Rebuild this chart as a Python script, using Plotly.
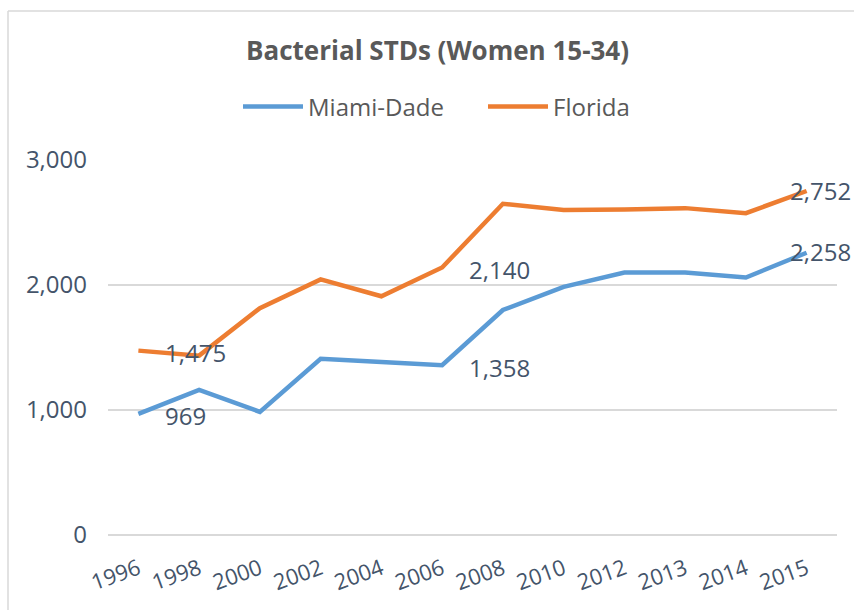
import plotly.graph_objects as go

# Bacterial STD cases among women aged 15-34
years = ["1996", "1998", "2000", "2002", "2004", "2006", "2008",
         "2010", "2012", "2013", "2014", "2015"]
miami_dade = [969, 1160, 985, 1410, 1385, 1358, 1800, 1985, 2100, 2100, 2060, 2258]
florida = [1475, 1435, 1815, 2045, 1910, 2140, 2650, 2600, 2605, 2615, 2575, 2752]

# Points that carry a value label (index into years)
labeled = [0, 5, 11]

BLUE = "#5B9BD5"
ORANGE = "#ED7D31"
TEXT = "#44546A"
FONT = "'Open Sans', sans-serif"

fig = go.Figure()
fig.add_trace(go.Scatter(x=years, y=miami_dade, name="Miami-Dade", mode="lines",
                         line=dict(color=BLUE, width=4.5)))
fig.add_trace(go.Scatter(x=years, y=florida, name="Florida", mode="lines",
                         line=dict(color=ORANGE, width=4.5)))

# Value labels placed to the right of their points (x given as category index)
for series in (miami_dade, florida):
    for i in labeled:
        last = i == len(years) - 1
        fig.add_annotation(x=i, y=series[i], text=f"{series[i]:,}",
                           showarrow=False, xanchor="left", yanchor="middle",
                           xshift=-19 if last else 25, yshift=1 if last else -2,
                           font=dict(family=FONT, size=24, color=TEXT))

# Title centred over the chart
fig.add_annotation(xref="paper", yref="paper", x=(437 - 108) / 729, y=(535 - 50) / 375,
                   text="<b>Bacterial STDs (Women 15-34)</b>", showarrow=False,
                   xanchor="center", yanchor="middle",
                   font=dict(family=FONT, size=26, color="#595959"))

# Chart frame (left and top edges visible)
fig.add_shape(type="line", xref="paper", yref="paper",
              x0=(8 - 108) / 729, x1=(8 - 108) / 729,
              y0=(535 - 11) / 375, y1=(535 - 620) / 375,
              line=dict(color="#D9D9D9", width=1.5))
fig.add_shape(type="line", xref="paper", yref="paper",
              x0=(8 - 108) / 729, x1=(870 - 108) / 729,
              y0=(535 - 11) / 375, y1=(535 - 11) / 375,
              line=dict(color="#D9D9D9", width=1.5))

fig.update_layout(
    width=854, height=610,
    margin=dict(l=108, r=17, t=160, b=75),
    paper_bgcolor="white", plot_bgcolor="white",
    font=dict(family=FONT, color=TEXT),
    showlegend=True,
    legend=dict(orientation="h", x=(483 - 108) / 729, y=(535 - 107) / 375,
                xanchor="center", yanchor="middle",
                font=dict(family=FONT, size=24, color="#595959"),
                itemwidth=60, entrywidth=170, entrywidthmode="pixels",
                tracegroupgap=0),
    xaxis=dict(type="category", range=[-0.5, 11.5], showgrid=False,
               showline=False, ticks="", tickangle=-20, ticklabelstandoff=16,
               tickfont=dict(family=FONT, size=22, color=TEXT)),
    yaxis=dict(range=[0, 3000], tickvals=[0, 1000, 2000, 3000],
               tickformat=",", showgrid=True, gridcolor="#D9D9D9", gridwidth=1.5,
               zeroline=True, zerolinecolor="#D9D9D9", zerolinewidth=1.5,
               showline=False, ticks="", ticklabelstandoff=20,
               tickfont=dict(family=FONT, size=24, color=TEXT)),
)

fig.write_html("out.html")
